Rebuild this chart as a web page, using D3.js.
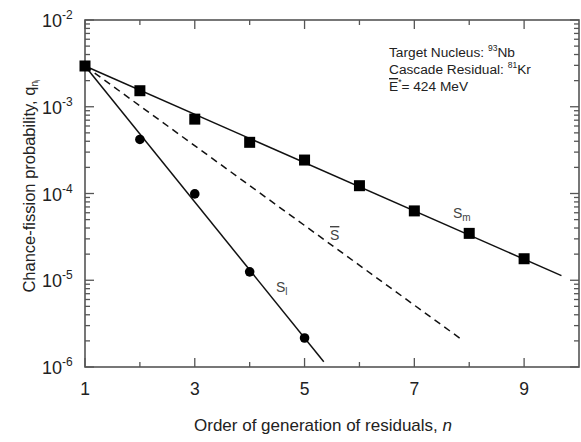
<!DOCTYPE html>
<html><head><meta charset="utf-8">
<script src="https://cdn.jsdelivr.net/npm/d3@7"></script>
<style>body{margin:0;background:#fff}svg{display:block;font-family:"Liberation Sans",Arial,sans-serif}</style>
</head><body><svg id="c" width="581" height="442"></svg>
<script>
// Data
const smN = [1,2,3,4,5,6,7,8,9];
const smQ = [2.95e-3,1.53e-3,7.2e-4,3.89e-4,2.43e-4,1.23e-4,6.3e-5,3.47e-5,1.77e-5];
const slN = [2,3,4,5];
const slQ = [4.2e-4,9.9e-5,1.25e-5,2.16e-6];
const smFitN = [1,9.68]; const smFitQ = [2.95e-3,1.13e-5];
const slFitN = [1,5.35]; const slFitQ = [2.95e-3,1.15e-6];
const sbFitN = [1,7.85]; const sbFitQ = [2.95e-3,2.1e-6];
const xMajor = [1,3,5,7,9];
const xMinor = [2,4,6,8];
const yExp = [-2,-3,-4,-5,-6];

const svg = d3.select("#c");
const L=85,R=579,T=20,B=367;
const x = d3.scaleLinear().domain([1,10]).range([L,R]);
const y = d3.scaleLog().domain([1e-6,1e-2]).range([B,T]);
const axisCol="#555";

// ticks
const minorY=[];
for(let e=-6;e<-2;e++) for(let m=2;m<=9;m++) minorY.push(m*Math.pow(10,e));
const g=svg.append("g").attr("stroke",axisCol).attr("stroke-width",1.3);
yExp.forEach(e=>{const v=Math.pow(10,e);
  g.append("line").attr("x1",L).attr("x2",L+9).attr("y1",y(v)).attr("y2",y(v));
  g.append("line").attr("x1",R).attr("x2",R-9).attr("y1",y(v)).attr("y2",y(v));});
minorY.forEach(v=>{
  g.append("line").attr("x1",L).attr("x2",L+5).attr("y1",y(v)).attr("y2",y(v));
  g.append("line").attr("x1",R).attr("x2",R-5).attr("y1",y(v)).attr("y2",y(v));});
xMajor.forEach(v=>{
  g.append("line").attr("x1",x(v)).attr("x2",x(v)).attr("y1",B).attr("y2",B-9);
  g.append("line").attr("x1",x(v)).attr("x2",x(v)).attr("y1",T).attr("y2",T+9);});
xMinor.forEach(v=>{
  g.append("line").attr("x1",x(v)).attr("x2",x(v)).attr("y1",B).attr("y2",B-5);
  g.append("line").attr("x1",x(v)).attr("x2",x(v)).attr("y1",T).attr("y2",T+5);});
svg.append("rect").attr("x",L).attr("y",T).attr("width",R-L).attr("height",B-T)
  .attr("fill","none").attr("stroke",axisCol).attr("stroke-width",1.6);

// tick labels
xMajor.forEach(v=>svg.append("text").attr("x",x(v)).attr("y",395).attr("text-anchor","middle")
  .attr("font-size",17.5).attr("fill","#222").text(v));
yExp.forEach(e=>{const t=svg.append("text").attr("x",42).attr("y",y(Math.pow(10,e))+7)
  .attr("font-size",18).attr("fill","#222");
  t.append("tspan").text("10");
  t.append("tspan").attr("font-size",12).attr("dy",-8).text(e);});

// axis titles
svg.append("text").attr("x",323).attr("y",431).attr("text-anchor","middle").attr("font-size",17).attr("fill","#222")
  .html('Order of generation of residuals, <tspan font-style="italic">n</tspan>');
const yt=svg.append("text").attr("transform","translate(35,186) rotate(-90)").attr("text-anchor","middle")
  .attr("font-size",16.5).attr("fill","#222");
yt.append("tspan").text("Chance-fission probability, q");
yt.append("tspan").attr("font-size",10).attr("dy",3).text("n");
yt.append("tspan").attr("font-size",7).attr("dy",2).text("i");

// lines
const line=(ns,qs)=>d3.line()(ns.map((n,i)=>[x(n),y(qs[i])]));
svg.append("path").attr("d",line(smFitN,smFitQ)).attr("stroke","#111").attr("stroke-width",1.5).attr("fill","none");
svg.append("path").attr("d",line(slFitN,slFitQ)).attr("stroke","#111").attr("stroke-width",1.5).attr("fill","none");
svg.append("path").attr("d",line(sbFitN,sbFitQ)).attr("stroke","#111").attr("stroke-width",1.5).attr("fill","none")
  .attr("stroke-dasharray","7,5");

// markers
smN.forEach((n,i)=>svg.append("rect").attr("x",x(n)-5.5).attr("y",y(smQ[i])-5.5).attr("width",11).attr("height",11).attr("fill","#000"));
slN.forEach((n,i)=>svg.append("circle").attr("cx",x(n)).attr("cy",y(slQ[i])).attr("r",4.8).attr("fill","#000"));

// series labels
function slab(xp,yp,sub){const t=svg.append("text").attr("x",xp).attr("y",yp).attr("font-size",14).attr("fill","#444");
  t.append("tspan").text("S"); t.append("tspan").attr("font-size",10).attr("dy",3).text(sub);}
slab(453,218,"m");
slab(276,292,"l");
svg.append("text").attr("x",330).attr("y",240).attr("font-size",14).attr("fill","#444")
  .attr("text-decoration","overline").text("S");

// annotation
const an=svg.append("g").attr("font-size",13.7).attr("fill","#222");
const a1=an.append("text").attr("x",389).attr("y",57);
a1.append("tspan").text("Target Nucleus: ");
a1.append("tspan").attr("font-size",8.5).attr("dy",-6).text("93");
a1.append("tspan").attr("dy",6).text("Nb");
const a2=an.append("text").attr("x",389).attr("y",74);
a2.append("tspan").text("Cascade Residual: ");
a2.append("tspan").attr("font-size",8.5).attr("dy",-6).text("81");
a2.append("tspan").attr("dy",6).text("Kr");
const a3=an.append("text").attr("x",389).attr("y",91);
a3.append("tspan").attr("text-decoration","overline").text("E");
a3.append("tspan").attr("font-size",8.5).attr("dy",-6).text("*");
a3.append("tspan").attr("dy",6).text("= 424 MeV");
</script></body></html>
